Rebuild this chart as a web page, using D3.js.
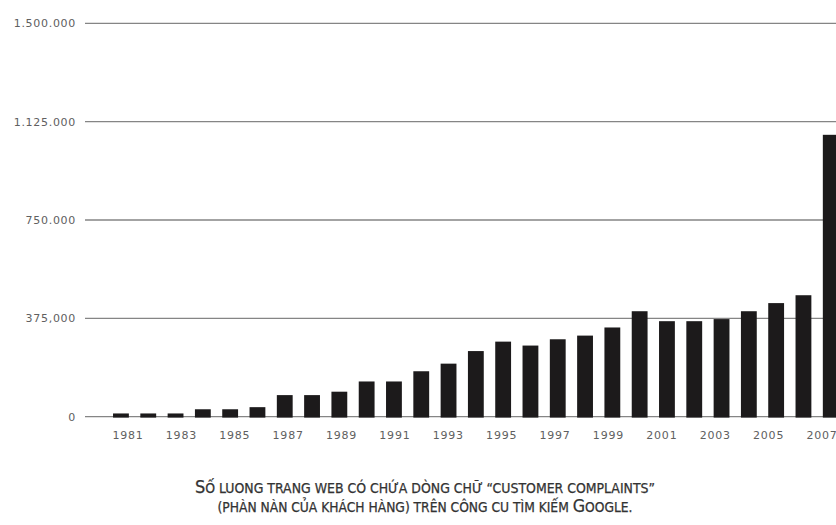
<!DOCTYPE html>
<html>
<head>
<meta charset="utf-8">
<script src="https://cdn.jsdelivr.net/npm/d3@7"></script>
<style>
  html, body { margin: 0; padding: 0; background: #fff; }
  svg { display: block; }
</style>
</head>
<body>
<svg id="chart" width="836" height="525"></svg>
<script>
// Years on the horizontal axis
const years = d3.range(1981, 2008);
// Number of web pages containing "customer complaints", per year
const pages = [
  12000, 12000, 12000, 28000, 28000, 36000, 82000, 82000, 95000, 134000,
  134000, 173000, 202000, 250000, 286000, 271000, 295000, 309000, 340000, 402000,
  364000, 364000, 372000, 402000, 433000, 463000, 1075000
];
// Vertical axis ticks and their printed labels
const yTicks = [0, 375000, 750000, 1125000, 1500000];
const yTickLabels = ["0", "375,000", "750.000", "1.125.000", "1.500.000"];
// Years that carry a label under the axis
const labelYears = years.filter(y => y % 2 === 1);

const svg = d3.select("#chart");
const W = 836;

const y = d3.scaleLinear().domain([0, 1500000]).range([416.6, 23.4]);
const x = d3.scaleBand().domain(years).range([107.3, 844.4])
  .paddingInner(0.42).paddingOuter(0.21);
const xLabel = d3.scalePoint().domain(years).range([128, 822]);

const axisFont = "'DejaVu Sans', sans-serif";

// Horizontal gridlines with their value labels
const grid = svg.append("g");
grid.selectAll("line").data(yTicks).join("line")
  .attr("x1", 85).attr("x2", W)
  .attr("y1", d => y(d)).attr("y2", d => y(d))
  .attr("stroke", "#858585").attr("stroke-width", 1.3);

grid.selectAll("text").data(yTicks).join("text")
  .attr("x", 76).attr("y", d => y(d)).attr("dy", "0.36em")
  .attr("text-anchor", "end")
  .attr("font-family", axisFont).attr("font-size", 11)
  .attr("letter-spacing", 0.7)
  .attr("fill", "#606060")
  .text((d, i) => yTickLabels[i]);

// Bars
svg.append("g").selectAll("rect").data(years).join("rect")
  .attr("x", d => x(d))
  .attr("width", x.bandwidth())
  .attr("y", (d, i) => y(pages[i]))
  .attr("height", (d, i) => y(0) - y(pages[i]) + 1)
  .attr("fill", "#1c1a1b");

// Year labels (the last one runs off the right edge)
svg.append("g").selectAll("text").data(labelYears).join("text")
  .attr("x", d => xLabel(d)).attr("y", 439)
  .attr("text-anchor", "middle")
  .attr("font-family", axisFont).attr("font-size", 11)
  .attr("letter-spacing", 0.8)
  .attr("fill", "#606060")
  .text(d => d);

// Caption in small caps
const capFont = "'Liberation Sans Narrow', 'DejaVu Sans Condensed', 'Roboto', sans-serif";
const captionLines = [
  { y: 493, len: 460, parts: [["S", 17.5], ["Ố LUONG TRANG WEB CÓ CHỨA DÒNG CHỮ “CUSTOMER COMPLAINTS”", 13.5]] },
  { y: 511.5, len: 415, parts: [["(PHÀN NÀN CỦA KHÁCH HÀNG) TRÊN CÔNG CU TÌM KIẾM ", 13.5], ["G", 17.5], ["OOGLE.", 13.5]] }
];
const cap = svg.append("g");
captionLines.forEach(line => {
  const t = cap.append("text")
    .attr("x", 425).attr("y", line.y)
    .attr("text-anchor", "middle")
    .attr("font-family", capFont)
    .attr("fill", "#333")
    .attr("stroke", "#333").attr("stroke-width", 0.25)
    .attr("textLength", line.len)
    .attr("lengthAdjust", "spacingAndGlyphs");
  line.parts.forEach(p => {
    t.append("tspan").attr("font-size", p[1]).text(p[0]);
  });
});
</script>
</body>
</html>
